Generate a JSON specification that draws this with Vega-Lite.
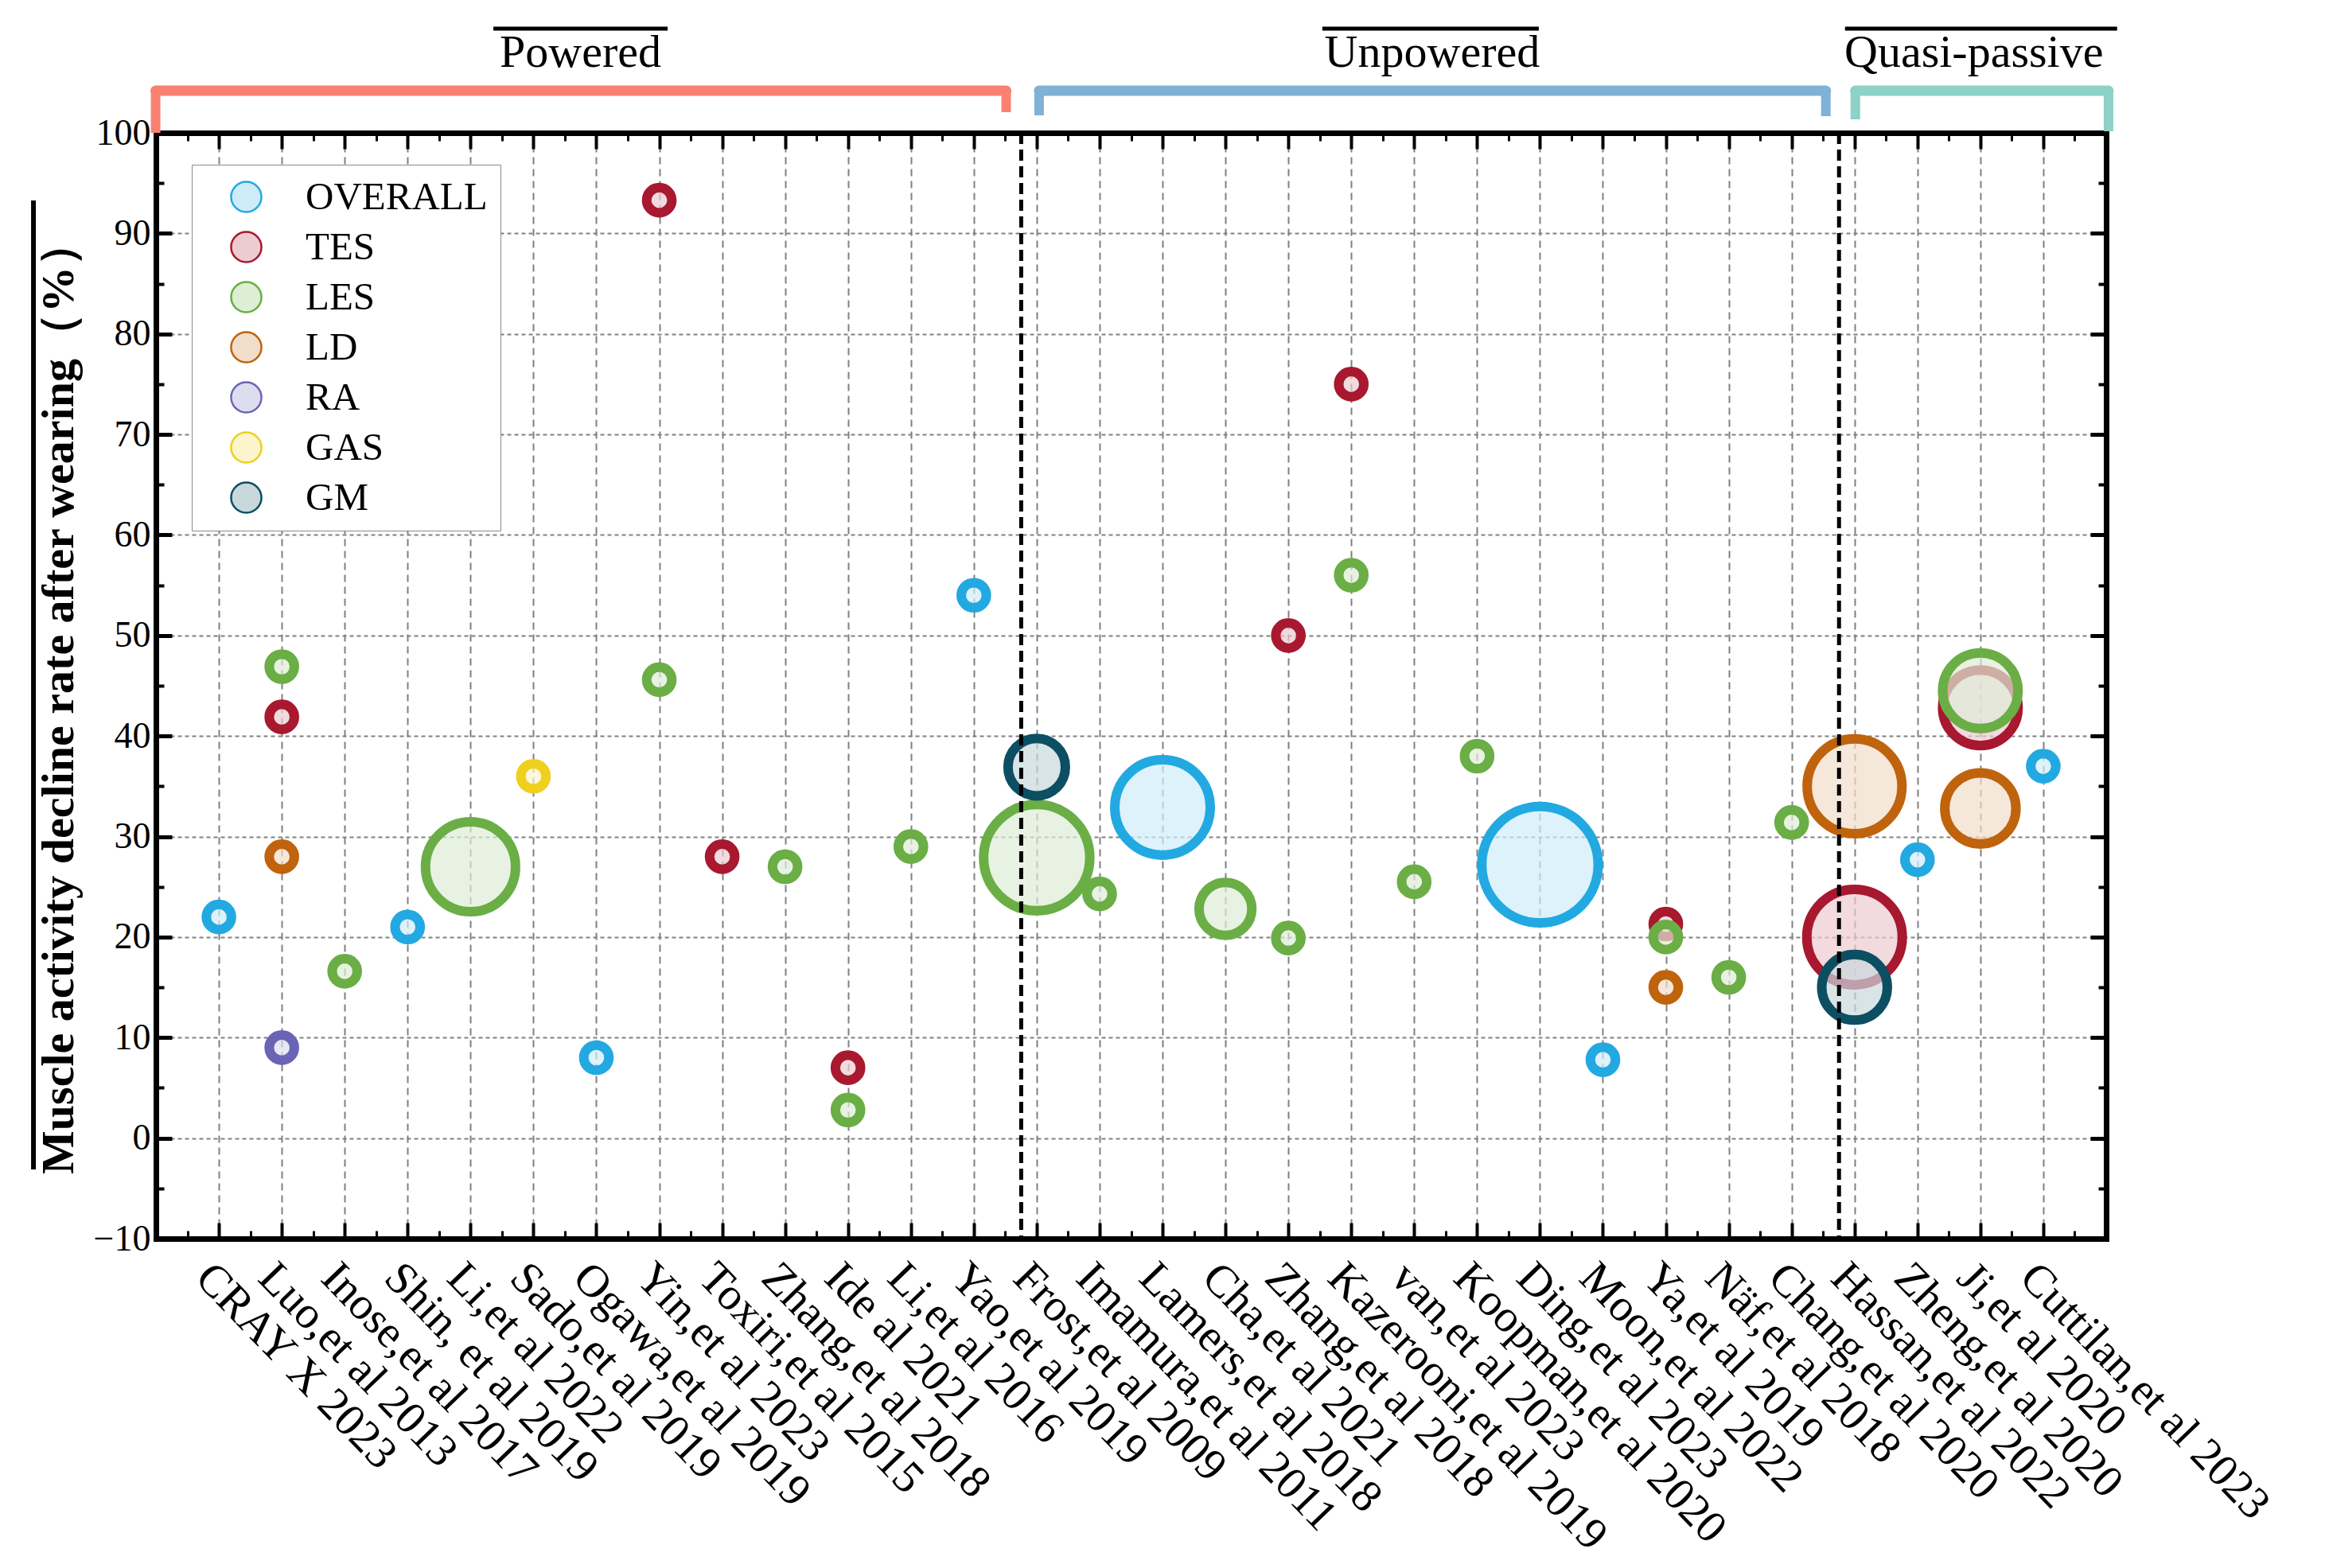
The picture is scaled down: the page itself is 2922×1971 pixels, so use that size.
{
  "$schema": "https://vega.github.io/schema/vega-lite/v6.json",
  "width": 2451,
  "height": 1390,
  "autosize": {"type": "none"},
  "padding": {"left": 196, "top": 167, "right": 275, "bottom": 414},
  "background": "white",
  "config": {
    "view": {"stroke": null},
    "font": "Liberation Serif",
    "axis": {"domainColor": "black", "tickColor": "black", "labelColor": "black", "titleColor": "black", "domainCap": "square"}
  },
  "datasets": {
    "points": [
      {"study": "CRAY X 2023", "muscle": "OVERALL", "rate": 22, "n": 5},
      {"study": "Luo,et al 2013", "muscle": "TES", "rate": 41.9, "n": 5},
      {"study": "Luo,et al 2013", "muscle": "LES", "rate": 46.9, "n": 5},
      {"study": "Luo,et al 2013", "muscle": "LD", "rate": 28, "n": 5},
      {"study": "Luo,et al 2013", "muscle": "RA", "rate": 9, "n": 5},
      {"study": "Inose,et al 2017", "muscle": "LES", "rate": 16.6, "n": 5},
      {"study": "Shin, et al 2019", "muscle": "OVERALL", "rate": 21, "n": 5},
      {"study": "Li,et al 2022", "muscle": "LES", "rate": 27, "n": 64},
      {"study": "Sado,et al 2019", "muscle": "GAS", "rate": 36, "n": 5},
      {"study": "Ogawa,et al 2019", "muscle": "OVERALL", "rate": 8, "n": 5},
      {"study": "Yin,et al 2023", "muscle": "TES", "rate": 93.3, "n": 5},
      {"study": "Yin,et al 2023", "muscle": "LES", "rate": 45.6, "n": 5},
      {"study": "Toxiri,et al 2015", "muscle": "TES", "rate": 28, "n": 5},
      {"study": "Zhang,et al 2018", "muscle": "LES", "rate": 27, "n": 5},
      {"study": "Ide al 2021", "muscle": "TES", "rate": 7, "n": 5},
      {"study": "Ide al 2021", "muscle": "LES", "rate": 2.8, "n": 5},
      {"study": "Li,et al 2016", "muscle": "LES", "rate": 29, "n": 5},
      {"study": "Yao,et al 2019", "muscle": "OVERALL", "rate": 54, "n": 5},
      {"study": "Frost,et al 2009", "muscle": "LES", "rate": 27.9, "n": 89},
      {"study": "Frost,et al 2009", "muscle": "GM", "rate": 36.9, "n": 26},
      {"study": "Imamura,et al 2011", "muscle": "LES", "rate": 24.3, "n": 5},
      {"study": "Lamers,et al 2018", "muscle": "OVERALL", "rate": 32.9, "n": 72},
      {"study": "Cha,et al 2021", "muscle": "LES", "rate": 22.8, "n": 22},
      {"study": "Zhang,et al 2018 ", "muscle": "TES", "rate": 50, "n": 5},
      {"study": "Zhang,et al 2018 ", "muscle": "LES", "rate": 19.9, "n": 5},
      {"study": "Kazerooni,et al 2019", "muscle": "TES", "rate": 75, "n": 5},
      {"study": "Kazerooni,et al 2019", "muscle": "LES", "rate": 56, "n": 5},
      {"study": "van,et al 2023", "muscle": "LES", "rate": 25.5, "n": 5},
      {"study": "Koopman,et al 2020", "muscle": "LES", "rate": 38, "n": 5},
      {"study": "Ding,et al 2023", "muscle": "OVERALL", "rate": 27.2, "n": 107},
      {"study": "Moon,et al 2022", "muscle": "OVERALL", "rate": 7.8, "n": 5},
      {"study": "Ya,et al 2019", "muscle": "TES", "rate": 21.3, "n": 5},
      {"study": "Ya,et al 2019", "muscle": "LES", "rate": 20, "n": 5},
      {"study": "Ya,et al 2019", "muscle": "LD", "rate": 15, "n": 5},
      {"study": "Näf,et al 2018", "muscle": "LES", "rate": 16, "n": 5},
      {"study": "Chang,et al 2020", "muscle": "LES", "rate": 31.4, "n": 5},
      {"study": "Hassan,et al 2022", "muscle": "TES", "rate": 20, "n": 72},
      {"study": "Hassan,et al 2022", "muscle": "LD", "rate": 35, "n": 71},
      {"study": "Hassan,et al 2022", "muscle": "GM", "rate": 15, "n": 34},
      {"study": "Zheng,et al 2020", "muscle": "OVERALL", "rate": 27.7, "n": 5},
      {"study": "Ji,et al 2020", "muscle": "TES", "rate": 42.8, "n": 45},
      {"study": "Ji,et al 2020", "muscle": "LES", "rate": 44.5, "n": 45},
      {"study": "Ji,et al 2020", "muscle": "LD", "rate": 32.8, "n": 40},
      {"study": "Cuttilan,et al 2023", "muscle": "OVERALL", "rate": 37, "n": 5}
    ],
    "groups": [
      {"group": "Powered", "first": "CRAY X 2023", "last": "Yao,et al 2019"},
      {"group": "Unpowered", "first": "Frost,et al 2009", "last": "Chang,et al 2020"},
      {"group": "Quasi-passive", "first": "Hassan,et al 2022", "last": "Cuttilan,et al 2023"}
    ]
  },
  "resolve": {"axis": {"x": "independent", "y": "independent"}},
  "layer": [
    {
      "data": {"name": "points"},
      "mark": {"type": "point", "shape": "circle", "filled": true, "strokeWidth": 12, "fillOpacity": 0.7, "strokeOpacity": 1, "opacity": 1},
      "encoding": {
        "x": {"field": "study", "type": "ordinal",
          "scale": {"type": "point", "padding": 1, "domain": ["CRAY X 2023", "Luo,et al 2013", "Inose,et al 2017", "Shin, et al 2019", "Li,et al 2022", "Sado,et al 2019", "Ogawa,et al 2019", "Yin,et al 2023", "Toxiri,et al 2015", "Zhang,et al 2018", "Ide al 2021", "Li,et al 2016", "Yao,et al 2019", "Frost,et al 2009", "Imamura,et al 2011", "Lamers,et al 2018", "Cha,et al 2021", "Zhang,et al 2018 ", "Kazerooni,et al 2019", "van,et al 2023", "Koopman,et al 2020", "Ding,et al 2023", "Moon,et al 2022", "Ya,et al 2019", "Näf,et al 2018", "Chang,et al 2020", "Hassan,et al 2022", "Zheng,et al 2020", "Ji,et al 2020", "Cuttilan,et al 2023"]},
          "axis": {"orient": "bottom", "title": null, "labelAngle": 46, "labelAlign": "left", "labelBaseline": "top", "labelFont": "Liberation Serif", "labelFontSize": 57, "labelPadding": 40, "labelLimit": 1000, "labelOverlap": false, "labelFlush": false, "tickSize": -20, "tickWidth": 4, "domain": true, "domainWidth": 7, "grid": true, "gridColor": "#808080", "gridDash": [9, 6], "gridWidth": 2}
        },
        "y": {"field": "rate", "type": "quantitative",
          "scale": {"domain": [-10, 100], "nice": false, "zero": false},
          "axis": {"orient": "left", "values": [-10, 0, 10, 20, 30, 40, 50, 60, 70, 80, 90, 100], "labelFont": "Liberation Serif", "labelFontSize": 46, "labelPadding": 27, "tickSize": -20, "tickWidth": 5, "domain": true, "domainWidth": 7, "grid": true, "gridColor": "#808080", "gridDash": [5, 4], "gridWidth": 2,
            "title": "Muscle activity decline rate after wearing（%）", "titleFont": "Liberation Serif", "titleFontSize": 58, "titleFontWeight": "bold", "titlePadding": 14, "titleY": 709}
        },
        "stroke": {"field": "muscle", "type": "nominal",
          "scale": {"domain": ["OVERALL", "TES", "LES", "LD", "RA", "GAS", "GM"], "range": ["#22a9e1", "#a8182f", "#6aae45", "#c0630d", "#6a64b6", "#efd01d", "#0c4f63"]},
          "legend": {"title": null, "orient": "none", "legendX": 45, "legendY": 40, "padding": 16, "symbolOffset": 28, "symbolType": "circle", "symbolSize": 1452, "symbolStrokeWidth": 2.5, "labelFont": "Liberation Serif", "labelFontSize": 49, "labelColor": "black", "labelOffset": 50, "labelLimit": 500, "rowPadding": 13, "fillColor": "white", "strokeColor": "#8a8a8a"}
        },
        "fill": {"field": "muscle", "type": "nominal",
          "scale": {"domain": ["OVERALL", "TES", "LES", "LD", "RA", "GAS", "GM"], "range": ["#ceecf8", "#eccbd1", "#deedd6", "#f1ddca", "#deddef", "#fbf5cd", "#c9d8dd"]},
          "legend": {"title": null, "orient": "none", "legendX": 45, "legendY": 40, "padding": 16, "symbolOffset": 28, "symbolType": "circle", "symbolSize": 1452, "symbolStrokeWidth": 2.5, "labelFont": "Liberation Serif", "labelFontSize": 49, "labelColor": "black", "labelOffset": 50, "labelLimit": 500, "rowPadding": 13, "fillColor": "white", "strokeColor": "#8a8a8a"}
        },
        "size": {"field": "n", "type": "quantitative", "scale": {"type": "linear", "domain": [0, 110], "range": [0, 22000]}, "legend": null}
      }
    },
    {
      "data": {"name": "groups"},
      "transform": [{"filter": "datum.group !== 'Powered'"}],
      "mark": {"type": "rule", "xOffset": -19.5, "strokeWidth": 5, "strokeDash": [14, 7], "color": "black"},
      "encoding": {
        "x": {"field": "first", "type": "ordinal",
          "scale": {"type": "point", "padding": 1, "domain": ["CRAY X 2023", "Luo,et al 2013", "Inose,et al 2017", "Shin, et al 2019", "Li,et al 2022", "Sado,et al 2019", "Ogawa,et al 2019", "Yin,et al 2023", "Toxiri,et al 2015", "Zhang,et al 2018", "Ide al 2021", "Li,et al 2016", "Yao,et al 2019", "Frost,et al 2009", "Imamura,et al 2011", "Lamers,et al 2018", "Cha,et al 2021", "Zhang,et al 2018 ", "Kazerooni,et al 2019", "van,et al 2023", "Koopman,et al 2020", "Ding,et al 2023", "Moon,et al 2022", "Ya,et al 2019", "Näf,et al 2018", "Chang,et al 2020", "Hassan,et al 2022", "Zheng,et al 2020", "Ji,et al 2020", "Cuttilan,et al 2023"]},
          "axis": {"orient": "top", "title": null, "labels": false, "tickSize": -20, "tickWidth": 4, "domain": true, "domainWidth": 7, "grid": false}
        }
      }
    },
    {
      "data": {"name": "groups"},
      "mark": {"type": "rule", "strokeWidth": 13, "strokeCap": "round",
        "xOffset": {"expr": "datum.group === 'Powered' ? -79.5 : datum.group === 'Unpowered' ? 3 : 1"},
        "x2Offset": {"expr": "datum.group === 'Powered' ? 40.7 : datum.group === 'Unpowered' ? 43 : 82"}},
      "encoding": {
        "x": {"field": "first", "type": "ordinal",
          "scale": {"type": "point", "padding": 1, "domain": ["CRAY X 2023", "Luo,et al 2013", "Inose,et al 2017", "Shin, et al 2019", "Li,et al 2022", "Sado,et al 2019", "Ogawa,et al 2019", "Yin,et al 2023", "Toxiri,et al 2015", "Zhang,et al 2018", "Ide al 2021", "Li,et al 2016", "Yao,et al 2019", "Frost,et al 2009", "Imamura,et al 2011", "Lamers,et al 2018", "Cha,et al 2021", "Zhang,et al 2018 ", "Kazerooni,et al 2019", "van,et al 2023", "Koopman,et al 2020", "Ding,et al 2023", "Moon,et al 2022", "Ya,et al 2019", "Näf,et al 2018", "Chang,et al 2020", "Hassan,et al 2022", "Zheng,et al 2020", "Ji,et al 2020", "Cuttilan,et al 2023"]},
          "axis": {"orient": "bottom", "title": null, "labels": false, "tickSize": -10, "tickWidth": 3, "tickOffset": -39.53, "domain": false, "grid": false}
        },
        "x2": {"field": "last"},
        "y": {"datum": 104.19, "type": "quantitative",
          "scale": {"domain": [-10, 100], "nice": false, "zero": false},
          "axis": {"orient": "right", "title": null, "labels": false, "values": [-10, 0, 10, 20, 30, 40, 50, 60, 70, 80, 90, 100], "tickSize": -20, "tickWidth": 5, "domain": true, "domainWidth": 7, "grid": false}
        },
        "color": {"field": "group", "type": "nominal", "scale": {"domain": ["Powered", "Unpowered", "Quasi-passive"], "range": ["#f98172", "#80b1d6", "#8ed1c6"]}, "legend": null}
      }
    },
    {
      "data": {"name": "groups"},
      "mark": {"type": "rule", "strokeWidth": 12,
        "xOffset": {"expr": "datum.group === 'Powered' ? -79.5 : datum.group === 'Unpowered' ? 3 : 1"},
        "y2Offset": {"expr": "datum.group === 'Powered' ? 0 : datum.group === 'Unpowered' ? -22 : -17"}},
      "encoding": {
        "x": {"field": "first", "type": "ordinal",
          "scale": {"type": "point", "padding": 1, "domain": ["CRAY X 2023", "Luo,et al 2013", "Inose,et al 2017", "Shin, et al 2019", "Li,et al 2022", "Sado,et al 2019", "Ogawa,et al 2019", "Yin,et al 2023", "Toxiri,et al 2015", "Zhang,et al 2018", "Ide al 2021", "Li,et al 2016", "Yao,et al 2019", "Frost,et al 2009", "Imamura,et al 2011", "Lamers,et al 2018", "Cha,et al 2021", "Zhang,et al 2018 ", "Kazerooni,et al 2019", "van,et al 2023", "Koopman,et al 2020", "Ding,et al 2023", "Moon,et al 2022", "Ya,et al 2019", "Näf,et al 2018", "Chang,et al 2020", "Hassan,et al 2022", "Zheng,et al 2020", "Ji,et al 2020", "Cuttilan,et al 2023"]},
          "axis": {"orient": "top", "title": null, "labels": false, "tickSize": -10, "tickWidth": 3, "tickOffset": -39.53, "domain": false, "grid": false}
        },
        "y": {"datum": 104.19, "type": "quantitative",
          "scale": {"domain": [-10, 100], "nice": false, "zero": false},
          "axis": {"orient": "left", "title": null, "labels": false, "values": [-5, 5, 15, 25, 35, 45, 55, 65, 75, 85, 95], "tickSize": -10, "tickWidth": 4, "domain": false, "grid": false}
        },
        "y2": {"datum": 100},
        "color": {"field": "group", "type": "nominal", "scale": {"domain": ["Powered", "Unpowered", "Quasi-passive"], "range": ["#f98172", "#80b1d6", "#8ed1c6"]}, "legend": null}
      }
    },
    {
      "data": {"name": "groups"},
      "mark": {"type": "rule", "strokeWidth": 12,
        "xOffset": {"expr": "datum.group === 'Powered' ? 40.7 : datum.group === 'Unpowered' ? 43 : 82"},
        "y2Offset": {"expr": "datum.group === 'Powered' ? -26 : datum.group === 'Unpowered' ? -21 : -2"}},
      "encoding": {
        "x": {"field": "last", "type": "ordinal",
          "scale": {"type": "point", "padding": 1, "domain": ["CRAY X 2023", "Luo,et al 2013", "Inose,et al 2017", "Shin, et al 2019", "Li,et al 2022", "Sado,et al 2019", "Ogawa,et al 2019", "Yin,et al 2023", "Toxiri,et al 2015", "Zhang,et al 2018", "Ide al 2021", "Li,et al 2016", "Yao,et al 2019", "Frost,et al 2009", "Imamura,et al 2011", "Lamers,et al 2018", "Cha,et al 2021", "Zhang,et al 2018 ", "Kazerooni,et al 2019", "van,et al 2023", "Koopman,et al 2020", "Ding,et al 2023", "Moon,et al 2022", "Ya,et al 2019", "Näf,et al 2018", "Chang,et al 2020", "Hassan,et al 2022", "Zheng,et al 2020", "Ji,et al 2020", "Cuttilan,et al 2023"]},
          "axis": {"orient": "bottom", "title": null, "labels": false, "values": ["Cuttilan,et al 2023"], "tickSize": -10, "tickWidth": 3, "tickOffset": 39.53, "domain": false, "grid": false}
        },
        "y": {"datum": 104.19, "type": "quantitative",
          "scale": {"domain": [-10, 100], "nice": false, "zero": false},
          "axis": {"orient": "right", "title": null, "labels": false, "values": [-5, 5, 15, 25, 35, 45, 55, 65, 75, 85, 95], "tickSize": -10, "tickWidth": 4, "domain": false, "grid": false}
        },
        "y2": {"datum": 100},
        "color": {"field": "group", "type": "nominal", "scale": {"domain": ["Powered", "Unpowered", "Quasi-passive"], "range": ["#f98172", "#80b1d6", "#8ed1c6"]}, "legend": null}
      }
    },
    {
      "data": {"name": "groups"},
      "mark": {"type": "text", "font": "Liberation Serif", "fontSize": 58, "align": "center", "baseline": "alphabetic", "color": "black",
        "xOffset": {"expr": "datum.group === 'Powered' ? 454.5 : datum.group === 'Unpowered' ? 497 : 150"}},
      "encoding": {
        "x": {"field": "first", "type": "ordinal",
          "scale": {"type": "point", "padding": 1, "domain": ["CRAY X 2023", "Luo,et al 2013", "Inose,et al 2017", "Shin, et al 2019", "Li,et al 2022", "Sado,et al 2019", "Ogawa,et al 2019", "Yin,et al 2023", "Toxiri,et al 2015", "Zhang,et al 2018", "Ide al 2021", "Li,et al 2016", "Yao,et al 2019", "Frost,et al 2009", "Imamura,et al 2011", "Lamers,et al 2018", "Cha,et al 2021", "Zhang,et al 2018 ", "Kazerooni,et al 2019", "van,et al 2023", "Koopman,et al 2020", "Ding,et al 2023", "Moon,et al 2022", "Ya,et al 2019", "Näf,et al 2018", "Chang,et al 2020", "Hassan,et al 2022", "Zheng,et al 2020", "Ji,et al 2020", "Cuttilan,et al 2023"]},
          "axis": {"orient": "top", "title": null, "labels": false, "values": ["Cuttilan,et al 2023"], "tickSize": -10, "tickWidth": 3, "tickOffset": 39.53, "domain": false, "grid": false}
        },
        "y": {"datum": 106.57, "type": "quantitative", "scale": {"domain": [-10, 100], "nice": false, "zero": false}, "axis": null},
        "text": {"field": "group"}
      }
    },
    {
      "data": {"name": "groups"},
      "mark": {"type": "rule", "strokeWidth": 5, "color": "black",
        "xOffset": {"expr": "datum.group === 'Powered' ? 345 : datum.group === 'Unpowered' ? 359 : -12"},
        "x2Offset": {"expr": "datum.group === 'Powered' ? 564 : datum.group === 'Unpowered' ? 631 : 330"}},
      "encoding": {
        "x": {"field": "first", "type": "ordinal",
          "scale": {"type": "point", "padding": 1, "domain": ["CRAY X 2023", "Luo,et al 2013", "Inose,et al 2017", "Shin, et al 2019", "Li,et al 2022", "Sado,et al 2019", "Ogawa,et al 2019", "Yin,et al 2023", "Toxiri,et al 2015", "Zhang,et al 2018", "Ide al 2021", "Li,et al 2016", "Yao,et al 2019", "Frost,et al 2009", "Imamura,et al 2011", "Lamers,et al 2018", "Cha,et al 2021", "Zhang,et al 2018 ", "Kazerooni,et al 2019", "van,et al 2023", "Koopman,et al 2020", "Ding,et al 2023", "Moon,et al 2022", "Ya,et al 2019", "Näf,et al 2018", "Chang,et al 2020", "Hassan,et al 2022", "Zheng,et al 2020", "Ji,et al 2020", "Cuttilan,et al 2023"]},
          "axis": null
        },
        "x2": {"field": "first"},
        "y": {"datum": 110.37, "type": "quantitative", "scale": {"domain": [-10, 100], "nice": false, "zero": false}, "axis": null}
      }
    },
    {
      "data": {"name": "groups"},
      "transform": [{"filter": "datum.group === 'Powered'"}],
      "mark": {"type": "rule", "strokeWidth": 6, "color": "black", "xOffset": -233},
      "encoding": {
        "x": {"field": "first", "type": "ordinal",
          "scale": {"type": "point", "padding": 1, "domain": ["CRAY X 2023", "Luo,et al 2013", "Inose,et al 2017", "Shin, et al 2019", "Li,et al 2022", "Sado,et al 2019", "Ogawa,et al 2019", "Yin,et al 2023", "Toxiri,et al 2015", "Zhang,et al 2018", "Ide al 2021", "Li,et al 2016", "Yao,et al 2019", "Frost,et al 2009", "Imamura,et al 2011", "Lamers,et al 2018", "Cha,et al 2021", "Zhang,et al 2018 ", "Kazerooni,et al 2019", "van,et al 2023", "Koopman,et al 2020", "Ding,et al 2023", "Moon,et al 2022", "Ya,et al 2019", "Näf,et al 2018", "Chang,et al 2020", "Hassan,et al 2022", "Zheng,et al 2020", "Ji,et al 2020", "Cuttilan,et al 2023"]},
          "axis": null
        },
        "y": {"datum": 93.27, "type": "quantitative", "scale": {"domain": [-10, 100], "nice": false, "zero": false}, "axis": null},
        "y2": {"datum": -3.12}
      }
    }
  ]
}
